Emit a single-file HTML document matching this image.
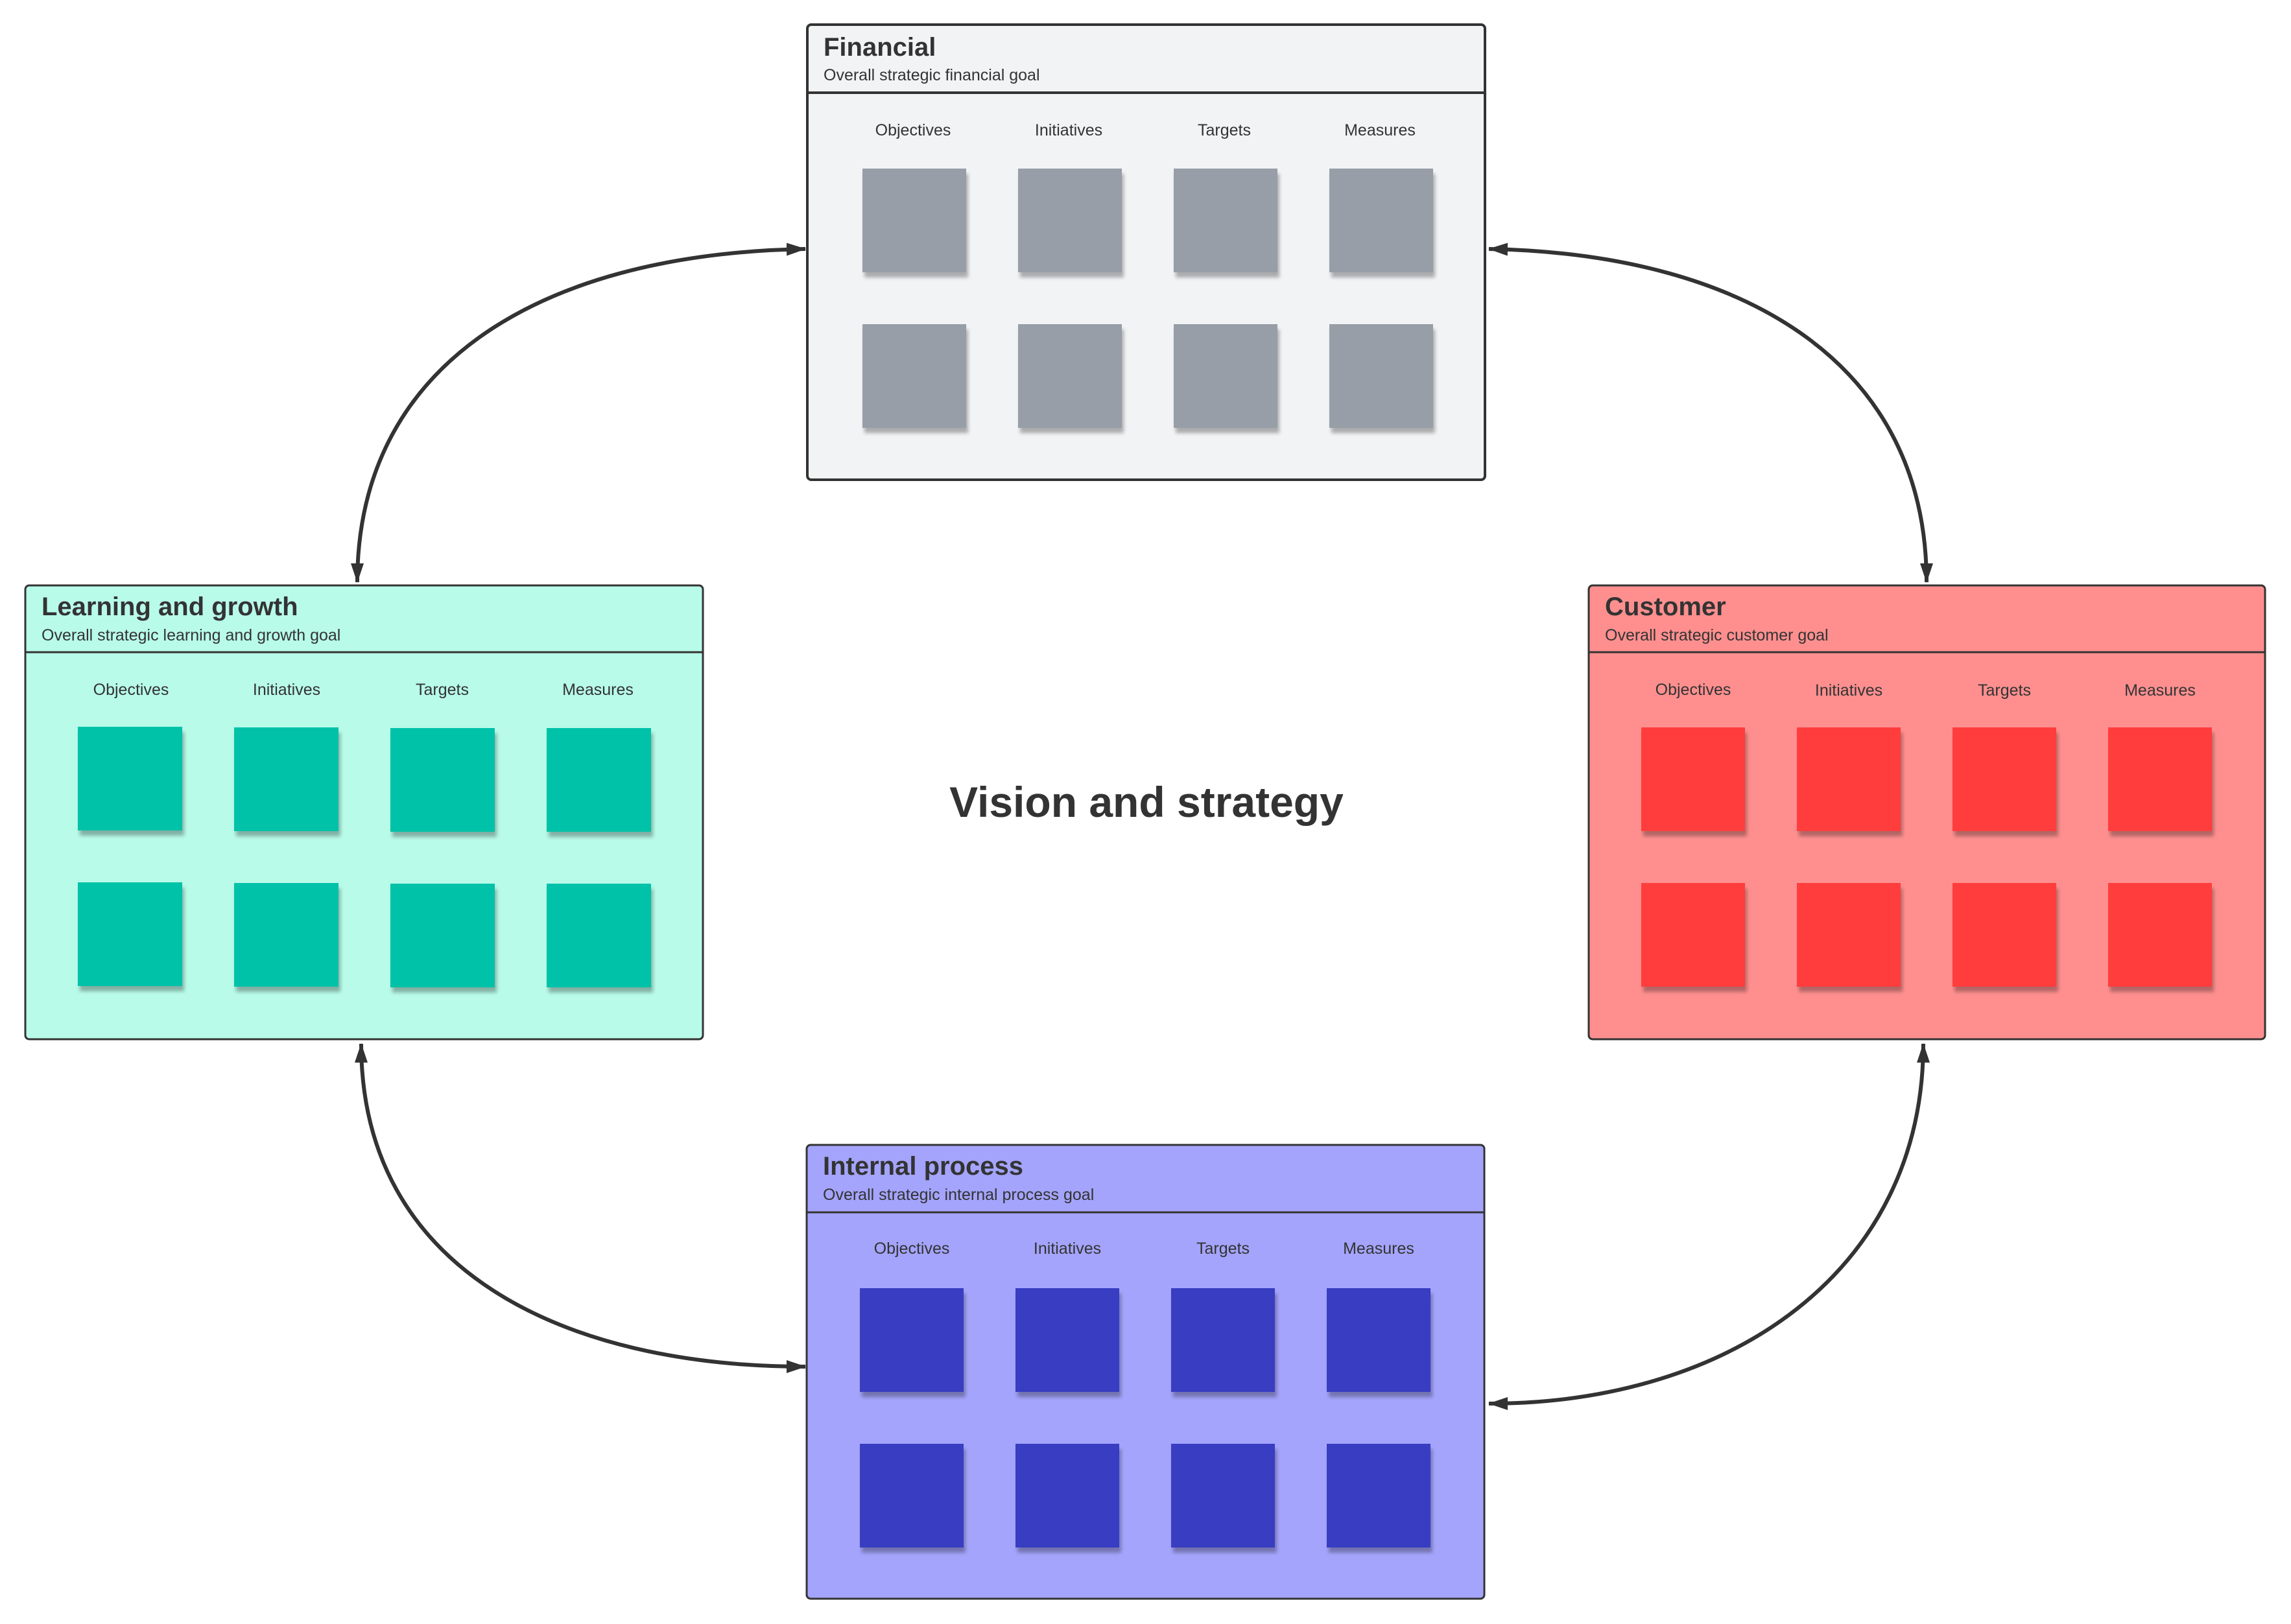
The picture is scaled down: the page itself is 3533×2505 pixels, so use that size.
<!DOCTYPE html>
<html><head><meta charset="utf-8"><style>
html,body{margin:0;padding:0;background:#fff;}
svg{display:block;}
text{font-family:"Liberation Sans",sans-serif;fill:#333;}
</style></head><body>
<svg width="3533" height="2505" viewBox="0 0 3533 2505" xmlns="http://www.w3.org/2000/svg">
<defs>
<filter id="sh" x="-10%" y="-10%" width="130%" height="130%">
<feGaussianBlur in="SourceAlpha" stdDeviation="3"/>
<feOffset dx="3" dy="8" result="b"/>
<feComponentTransfer><feFuncA type="linear" slope="0.3"/></feComponentTransfer>
<feMerge><feMergeNode/><feMergeNode in="SourceGraphic"/></feMerge>
</filter>
<marker id="ah" viewBox="0 0 30 20" refX="29" refY="10" markerWidth="30" markerHeight="20" markerUnits="userSpaceOnUse" orient="auto-start-reverse">
<path d="M0,0 L30,10 L0,20 Z" fill="#333"/>
</marker>
</defs>

<g fill="none" stroke="#333" stroke-width="6">
<path d="M1242,384 C820,392 551,570 551,898" marker-start="url(#ah)" marker-end="url(#ah)"/>
<path d="M2296,384 C2705,392 2971,570 2971,898" marker-start="url(#ah)" marker-end="url(#ah)"/>
<path d="M557,1610 C557,1960 870,2108 1242,2108" marker-start="url(#ah)" marker-end="url(#ah)"/>
<path d="M2966,1610 C2966,1960 2670,2165 2296,2165" marker-start="url(#ah)" marker-end="url(#ah)"/>
</g>

<text x="1768" y="1260" font-size="66" font-weight="bold" text-anchor="middle">Vision and strategy</text>

<g transform="translate(1245,38)">
<rect x="0" y="0" width="1045" height="702" rx="6" fill="#f2f3f5" stroke="#333" stroke-width="4"/>
<line x1="0" y1="105" x2="1045" y2="105" stroke="#333" stroke-width="4"/>
<text x="25" y="48" font-size="40" font-weight="bold">Financial</text>
<text x="25" y="86" font-size="25">Overall strategic financial goal</text>
<g font-size="25" text-anchor="middle"><text x="163" y="171">Objectives</text><text x="403" y="171">Initiatives</text><text x="643" y="171">Targets</text><text x="883" y="171">Measures</text></g>
<g fill="#979ea8" filter="url(#sh)">
<rect x="85" y="222" width="160" height="160"/><rect x="325" y="222" width="160" height="160"/><rect x="565" y="222" width="160" height="160"/><rect x="805" y="222" width="160" height="160"/>
<rect x="85" y="462" width="160" height="160"/><rect x="325" y="462" width="160" height="160"/><rect x="565" y="462" width="160" height="160"/><rect x="805" y="462" width="160" height="160"/>
</g>
</g>

<g transform="translate(39,903)">
<rect x="0" y="0" width="1045" height="700" rx="6" fill="#b8fbe9" stroke="#333" stroke-width="3"/>
<line x1="0" y1="103" x2="1045" y2="103" stroke="#333" stroke-width="3"/>
<text x="25" y="46" font-size="40" font-weight="bold">Learning and growth</text>
<text x="25" y="85" font-size="25">Overall strategic learning and growth goal</text>
<g font-size="25" text-anchor="middle"><text x="163" y="169">Objectives</text><text x="403" y="169">Initiatives</text><text x="643" y="169">Targets</text><text x="883" y="169">Measures</text></g>
<g fill="#00c2a8" filter="url(#sh)">
<rect x="81" y="218" width="161" height="160"/><rect x="322" y="219" width="161" height="160"/><rect x="563" y="220" width="161" height="160"/><rect x="804" y="220" width="161" height="160"/>
<rect x="81" y="458" width="161" height="160"/><rect x="322" y="459" width="161" height="160"/><rect x="563" y="460" width="161" height="160"/><rect x="804" y="460" width="161" height="160"/>
</g>
</g>

<g transform="translate(2450,903)">
<rect x="0" y="0" width="1043" height="700" rx="6" fill="#ff8f8f" stroke="#333" stroke-width="3"/>
<line x1="0" y1="103" x2="1043" y2="103" stroke="#333" stroke-width="3"/>
<text x="25" y="46" font-size="40" font-weight="bold">Customer</text>
<text x="25" y="85" font-size="25">Overall strategic customer goal</text>
<g font-size="25" text-anchor="middle"><text x="161" y="169">Objectives</text><text x="401" y="170">Initiatives</text><text x="641" y="170">Targets</text><text x="881" y="170">Measures</text></g>
<g fill="#ff3d3d" filter="url(#sh)">
<rect x="81" y="219" width="160" height="160"/><rect x="321" y="219" width="160" height="160"/><rect x="561" y="219" width="160" height="160"/><rect x="801" y="219" width="160" height="160"/>
<rect x="81" y="459" width="160" height="160"/><rect x="321" y="459" width="160" height="160"/><rect x="561" y="459" width="160" height="160"/><rect x="801" y="459" width="160" height="160"/>
</g>
</g>

<g transform="translate(1244,1766)">
<rect x="0" y="0" width="1045" height="700" rx="6" fill="#a4a4fc" stroke="#333" stroke-width="3"/>
<line x1="0" y1="104" x2="1045" y2="104" stroke="#333" stroke-width="3"/>
<text x="25" y="46" font-size="40" font-weight="bold">Internal process</text>
<text x="25" y="85" font-size="25">Overall strategic internal process goal</text>
<g font-size="25" text-anchor="middle"><text x="162" y="168">Objectives</text><text x="402" y="168">Initiatives</text><text x="642" y="168">Targets</text><text x="882" y="168">Measures</text></g>
<g fill="#393ec2" filter="url(#sh)">
<rect x="82" y="221" width="160" height="160"/><rect x="322" y="221" width="160" height="160"/><rect x="562" y="221" width="160" height="160"/><rect x="802" y="221" width="160" height="160"/>
<rect x="82" y="461" width="160" height="160"/><rect x="322" y="461" width="160" height="160"/><rect x="562" y="461" width="160" height="160"/><rect x="802" y="461" width="160" height="160"/>
</g>
</g>
</svg>
</body></html>
